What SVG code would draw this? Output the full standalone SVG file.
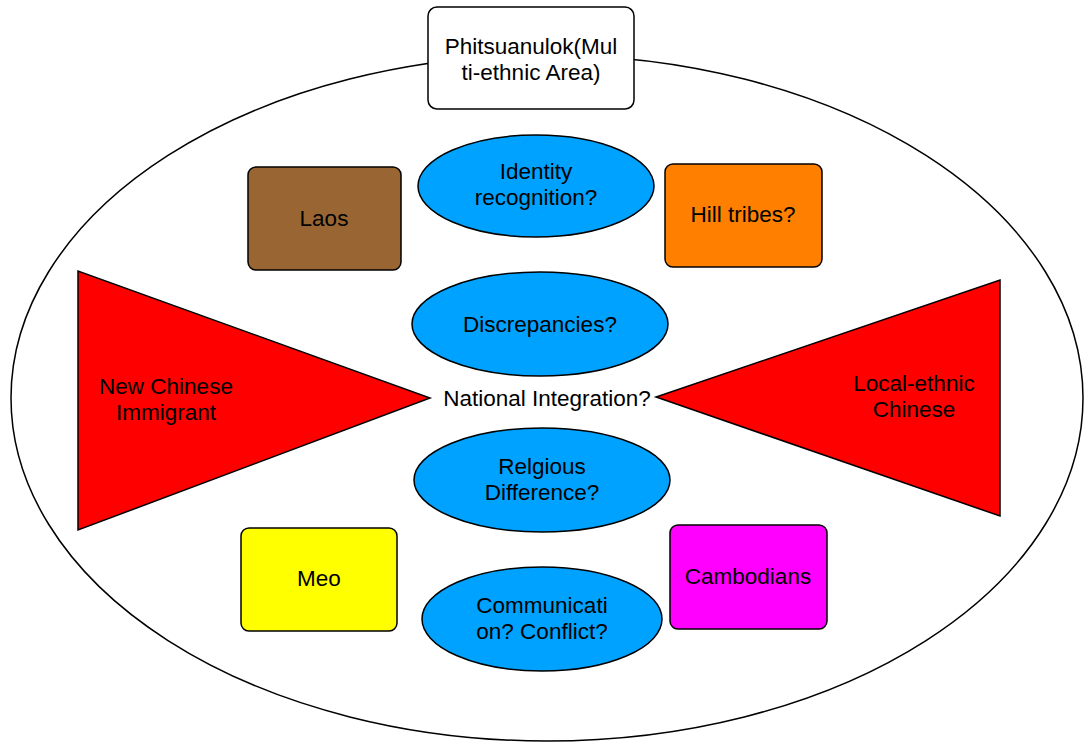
<svg xmlns="http://www.w3.org/2000/svg" width="1087" height="744" viewBox="0 0 1087 744">
<style>
.s{stroke:#000;stroke-width:1.5}
.t{font-family:"Liberation Sans",Arial,sans-serif;font-size:22.5px;fill:#000;text-anchor:middle}
</style>
<rect width="1087" height="744" fill="#fff"/>
<g id="area"><ellipse class="s" cx="547" cy="398" rx="536" ry="343" fill="#fff"/></g>
<g id="connectors"></g>
<g id="title"><rect class="s" x="428" y="7" width="206" height="102" rx="9" fill="#fff"/><text class="t" x="531" y="54">Phitsuanulok(Mul</text><text class="t" x="531" y="80">ti-ethnic Area)</text></g>
<g id="laos"><rect class="s" x="248" y="167" width="153" height="103" rx="8" fill="#996633"/><text class="t" x="324" y="226">Laos</text></g>
<g id="hill"><rect class="s" x="665" y="164" width="157" height="103" rx="8" fill="#FF8000"/><text class="t" x="743" y="222">Hill tribes?</text></g>
<g id="meo"><rect class="s" x="241" y="528" width="156" height="103" rx="8" fill="#FFFF00"/><text class="t" x="319" y="586">Meo</text></g>
<g id="cambodians"><rect class="s" x="670" y="525" width="157" height="104" rx="8" fill="#FF00FF"/><text class="t" x="748" y="584">Cambodians</text></g>
<g id="identity"><ellipse class="s" cx="536" cy="186" rx="118" ry="51" fill="#00A2FF"/><text class="t" x="536" y="179">Identity</text><text class="t" x="536" y="205">recognition?</text></g>
<g id="discrepancies"><ellipse class="s" cx="540" cy="324" rx="128" ry="52" fill="#00A2FF"/><text class="t" x="540" y="332">Discrepancies?</text></g>
<g id="religious"><ellipse class="s" cx="542" cy="480" rx="128" ry="52" fill="#00A2FF"/><text class="t" x="542" y="474">Relgious</text><text class="t" x="542" y="500">Difference?</text></g>
<g id="communication"><ellipse class="s" cx="542" cy="619" rx="120" ry="52" fill="#00A2FF"/><text class="t" x="542" y="613">Communicati</text><text class="t" x="542" y="639">on? Conflict?</text></g>
<g id="newchinese"><polygon class="s" points="78,271 78,530 430,398" fill="#FF0000"/><text class="t" x="166" y="394">New Chinese</text><text class="t" x="166" y="420">Immigrant</text></g>
<g id="localchinese"><polygon class="s" points="1000,280 1000,516 656,397" fill="#FF0000"/><text class="t" x="914" y="391">Local-ethnic</text><text class="t" x="914" y="417">Chinese</text></g>
<g id="national"><text class="t" x="547" y="406">National Integration?</text></g>
</svg>
